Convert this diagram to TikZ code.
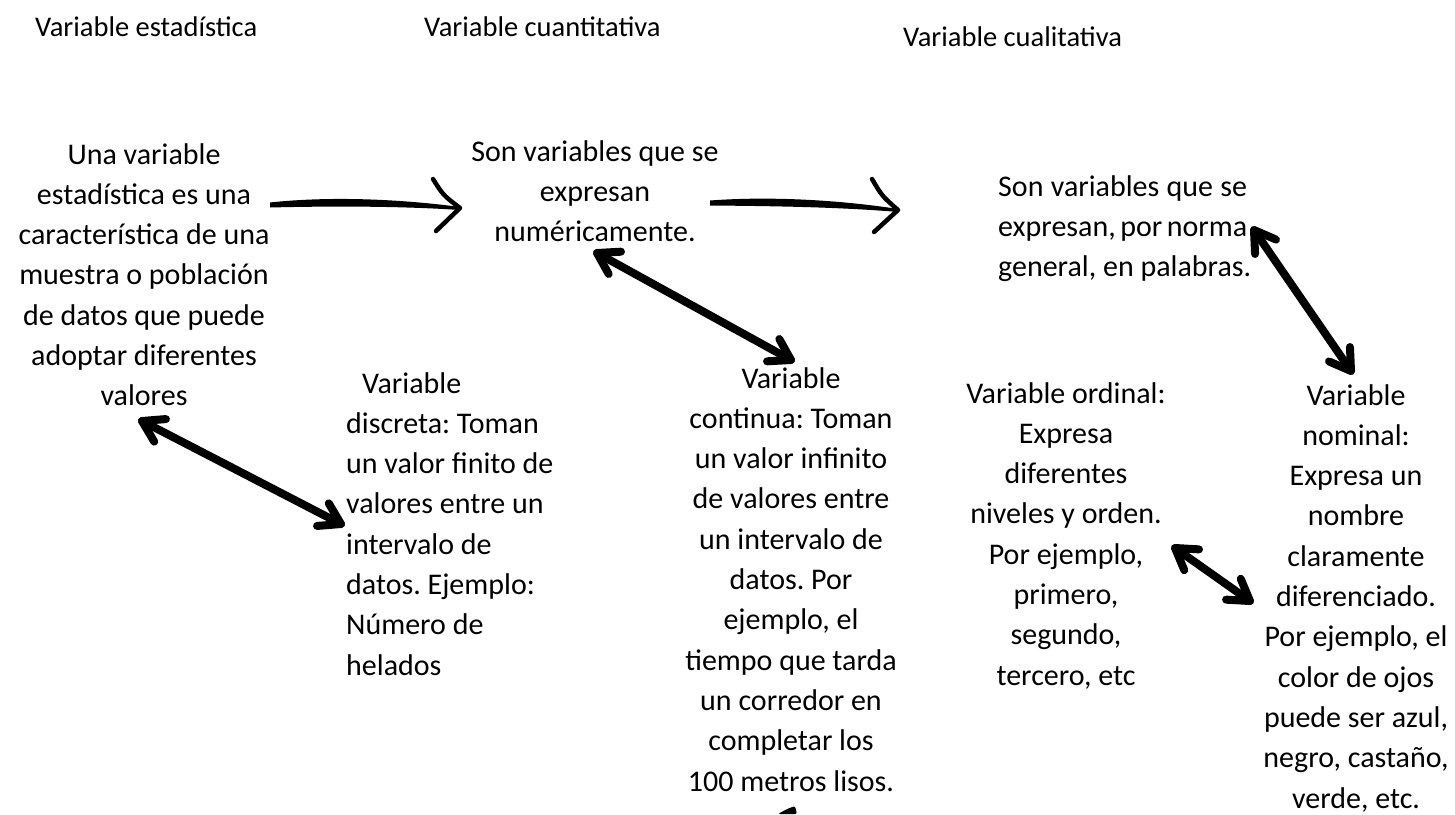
\documentclass[tikz,border=0pt]{standalone}
\usepackage{fontspec}
\setmainfont{Carlito}
\usetikzlibrary{calc}
\frenchspacing
\begin{document}
\begin{tikzpicture}[x=1pt,y=-1pt,
  body/.style={font=\fontsize{30}{40.3}\selectfont, align=center, inner sep=0pt, anchor=north},
  ttl/.style={font=\fontsize{28.5}{34}\selectfont, inner sep=0pt, anchor=west},
  dbl/.style={line width=8pt, line cap=round, line join=round},
  hand/.style={line width=4pt, line cap=round, line join=round}]
\useasboundingbox (0,0) rectangle (1455,814);
\fill[white] (0,0) rectangle (1455,814);

% titles
\node[ttl] (t1) at (35,27) {Variable estadística};
\node[ttl] (t2) at (424,27) {Variable cuantitativa};
\node[ttl] (t3) at (903,37) {Variable cualitativa};

% texts
\node[body] (def) at (144,143) {Una variable\\ estadística es una\\ característica de una\\ muestra o población\\ de datos que puede\\ adoptar diferentes\\ valores};
\node[body] (cuant) at (595,140) {Son variables que se\\ expresan\\ numéricamente.};
\node[body, align=left, anchor=north west] (cual) at (998,175) {\makebox[249pt][s]{Son variables que se}\\ \makebox[249pt][s]{expresan, por norma}\\ general, en palabras.};
\node[body, align=left, anchor=north west] (disc) at (346,372) {\hspace*{16pt}Variable\\ discreta: Toman\\ un valor finito de\\ valores entre un\\ intervalo de\\ datos. Ejemplo:\\ Número de\\ helados};
\node[body] (cont) at (791,367) {Variable\\ continua: Toman\\ un valor infinito\\ de valores entre\\ un intervalo de\\ datos. Por\\ ejemplo, el\\ tiempo que tarda\\ un corredor en\\ completar los\\ 100 metros lisos.};
\node[body] (ord) at (1066,382) {Variable ordinal:\\ Expresa\\ diferentes\\ niveles y orden.\\ Por ejemplo,\\ primero,\\ segundo,\\ tercero, etc};
\node[body] (nom) at (1356,384) {Variable\\ nominal:\\ Expresa un\\ nombre\\ claramente\\ diferenciado.\\ Por ejemplo, el\\ color de ojos\\ puede ser azul,\\ negro, castaño,\\ verde, etc.};

% hand-drawn arrow 1
\coordinate (a1s) at (270,205);
\coordinate (a1e) at (460,208);
\fill (a1s) ++(0,-2.5) .. controls (330,196) and (400,199) .. ($(a1e)+(0,-1)$)
  -- ($(a1e)+(0,2)$) .. controls (400,206) and (330,206) .. ($(a1s)+(0,2.5)$) -- cycle;
\draw[hand, line width=4.5pt] (433,179) .. controls (443,195) .. (a1e) -- (436,231);

% hand-drawn arrow 2
\coordinate (a2s) at (710,203);
\coordinate (a2e) at (898,210);
\fill (a2s) ++(0,-2.5) .. controls (770,196) and (840,200) .. ($(a2e)+(0,-1)$)
  -- ($(a2e)+(0,2)$) .. controls (840,207) and (770,206) .. ($(a2s)+(0,2.5)$) -- cycle;
\draw[hand, line width=4.5pt] (872,179) .. controls (882,196) .. (a2e) -- (874,232);

% double arrows
\coordinate (A1) at (597,253); \coordinate (A2) at (791,360);
\coordinate (B1) at (142,421); \coordinate (B2) at (341,524);
\coordinate (C1) at (1254,230); \coordinate (C2) at (1351,371);
\coordinate (D1) at (1175,548); \coordinate (D2) at (1250,601);
\foreach \p/\q in {A1/A2,B1/B2,C1/C2,D1/D2}{
  \draw[dbl] (\p) -- (\q);
  \draw[dbl] ($(\p)!24pt!32:(\q)$) -- (\p) -- ($(\p)!24pt!-32:(\q)$);
  \draw[dbl] ($(\q)!24pt!32:(\p)$) -- (\q) -- ($(\q)!24pt!-32:(\p)$);
}

% bottom fragment
\coordinate (E) at (787,810);
\fill[rounded corners=2pt] (778,814) -- (787,809) -- (795,806) -- (797,814) -- cycle;
\end{tikzpicture}
\end{document}
